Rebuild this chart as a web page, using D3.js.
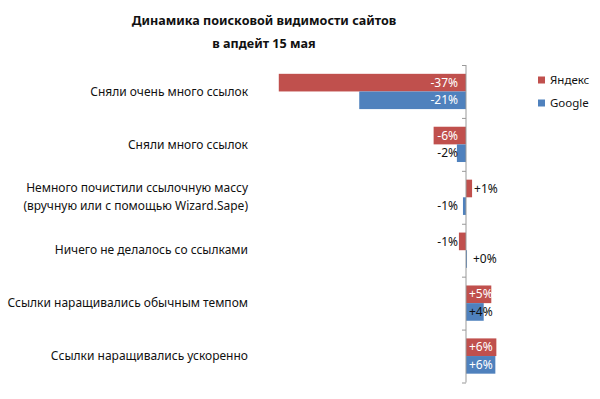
<!DOCTYPE html>
<html>
<head>
<meta charset="utf-8">
<script src="https://cdn.jsdelivr.net/npm/d3@7"></script>
<style>
  body { margin: 0; background: #fff; }
  svg { display: block; font-family: "Noto Sans", "Open Sans", sans-serif; }
</style>
</head>
<body>
<div id="chart"></div>
<script>
// Data
const categories = [
	["Сняли очень много ссылок"],
	["Сняли много ссылок"],
	["Немного почистили ссылочную массу", "(вручную или с помощью Wizard.Sape)"],
	["Ничего не делалось со ссылками"],
	["Ссылки наращивались обычным темпом"],
	["Ссылки наращивались ускоренно"]
];
const seriesNames = ["Яндекс", "Google"];
const yandexValues = [-37, -6.4, 1.2, -1.4, 5.0, 6.0];
const googleValues = [-21.1, -1.8, -0.6, 0.2, 3.5, 5.8];
const valueLabels = [
	["-37%", "-6%", "+1%", "-1%", "+5%", "+6%"],
	["-21%", "-2%", "-1%", "+0%", "+4%", "+6%"]
];
const titleLines = ["Динамика поисковой видимости сайтов", "в апдейт 15 мая"];

const width = 600;
const height = 399;
const colors = ["#C0504D", "#4F81BD"];

const svg = d3.select("#chart").append("svg")
	.attr("width", width)
	.attr("height", height);

// Scales
const x = d3.scaleLinear().domain([-40, 10]).range([263.6, 516.6]);
const catIdx = d3.range(categories.length);
const y = d3.scaleBand().domain(catIdx).range([65, 382.5]);
const ySub = d3.scaleBand().domain(seriesNames).range([0, y.bandwidth()]).paddingOuter(0.5);
const color = d3.scaleOrdinal().domain(seriesNames).range(colors);

// Title
svg.append("text")
	.attr("x", 264)
	.attr("y", 25)
	.attr("text-anchor", "middle")
	.style("font-size", "12.6px")
	.style("font-weight", "bold")
	.style("fill", "#111")
	.selectAll("tspan")
	.data(titleLines)
	.enter().append("tspan")
	.attr("x", 264)
	.attr("dy", (d, i) => i ? 23 : 0)
	.text(d => d);

// Bars
const rows = catIdx.map(i => ({
	i: i,
	values: [
		{ key: seriesNames[0], value: yandexValues[i], label: valueLabels[0][i] },
		{ key: seriesNames[1], value: googleValues[i], label: valueLabels[1][i] }
	]
}));

const groups = svg.selectAll(".seriesGroup")
	.data(rows)
	.enter().append("g")
	.attr("class", "seriesGroup")
	.attr("transform", d => "translate(0," + y(d.i) + ")");

groups.selectAll("rect")
	.data(d => d.values)
	.enter().append("rect")
	.attr("x", d => x(Math.min(0, d.value)))
	.attr("y", d => ySub(d.key))
	.attr("width", d => Math.abs(x(d.value) - x(0)))
	.attr("height", ySub.bandwidth())
	.attr("fill", d => color(d.key));

// Data labels
const x0 = x(0);
groups.selectAll(".valueLabel")
	.data(d => d.values)
	.enter().append("text")
	.attr("class", "valueLabel")
	.attr("y", d => ySub(d.key) + ySub.bandwidth() / 2)
	.attr("dy", "0.35em")
	.style("font-size", "12px")
	.attr("text-anchor", d => d.value < 0 ? "end" : "start")
	.attr("x", d => {
		if (d.value < 0) return x0 - 8;
		let w = x(d.value) - x0;
		return w < 10 ? Math.max(x(d.value) + 2, x0 + 7) : x0 + 3;
	})
	.style("fill", d => Math.abs(x(d.value) - x0) >= 24 ? "#fff" : "#111")
	.text(d => d.label);

// Vertical category axis at zero
const yb = d3.scaleLinear().domain([0, categories.length]).range([65, 382.5]);
const axis = svg.append("g")
	.attr("transform", "translate(" + x0 + ",0)")
	.call(d3.axisLeft(yb).ticks(categories.length).tickSize(4).tickFormat(""));
axis.select(".domain").attr("stroke", "#999").attr("d", "M0,65V382.5");
axis.selectAll(".tick line").attr("stroke", "#999");

// Category labels
svg.selectAll(".catLabel")
	.data(rows)
	.enter().append("text")
	.attr("class", "catLabel")
	.attr("text-anchor", "end")
	.style("font-size", "12px")
	.style("fill", "#111")
	.each(function(d) {
		let lines = categories[d.i];
		let cy = y(d.i) + y.bandwidth() / 2;
		d3.select(this).selectAll("tspan")
			.data(lines)
			.enter().append("tspan")
			.attr("x", 248)
			.attr("y", (l, k) => cy + (k - (lines.length - 1) / 2) * 18)
			.attr("dy", "0.35em")
			.text(l => l);
	});

// Legend
const legend = svg.selectAll(".legendItem")
	.data(seriesNames)
	.enter().append("g")
	.attr("class", "legendItem")
	.attr("transform", (d, i) => "translate(538," + (80 + i * 23) + ")");

legend.append("rect")
	.attr("x", 0)
	.attr("y", -3.5)
	.attr("width", 7)
	.attr("height", 7)
	.attr("fill", d => color(d));

legend.append("text")
	.attr("x", 12)
	.attr("dy", "0.35em")
	.style("font-size", "11.5px")
	.style("fill", "#111")
	.text(d => d);
</script>
</body>
</html>
